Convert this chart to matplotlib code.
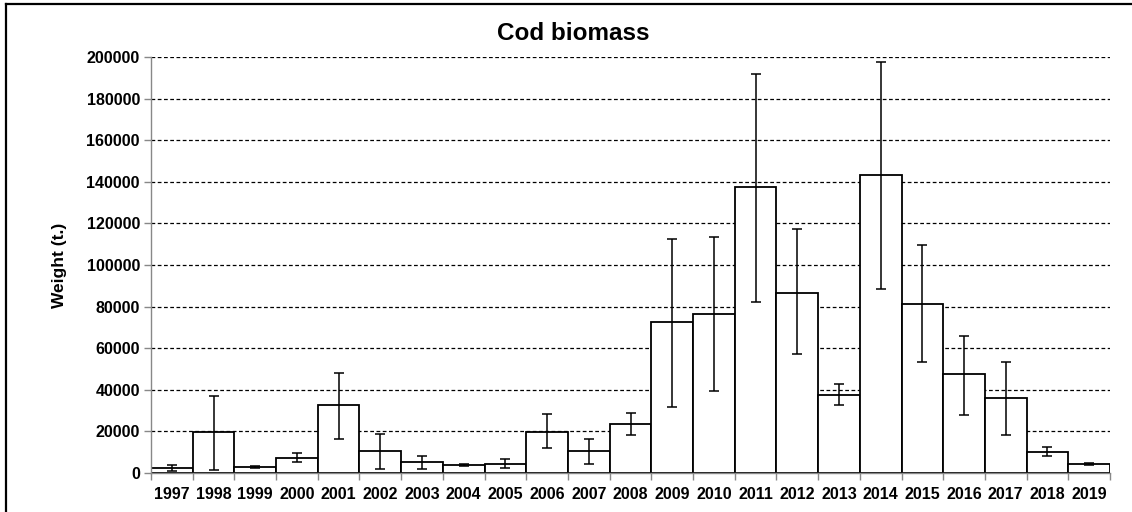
import matplotlib
matplotlib.use("Agg")
import matplotlib.pyplot as plt
from matplotlib.lines import Line2D
import numpy as np

years = [str(y) for y in range(1997, 2020)]
biomass = [2260, 19600, 2900, 7400, 32700, 10400, 5100, 3700, 4300, 19900, 10400,
           23600, 72600, 76300, 137400, 86700, 37700, 143200, 81400, 47500, 36200,
           10100, 4300]
err_high = [3700, 37200, 3300, 9600, 48200, 18600, 8000, 4200, 6600, 28200, 16200,
            28900, 112700, 113500, 191700, 117200, 42900, 197500, 109800, 66000, 53200,
            12400, 4700]
err_low = [960, 1400, 2500, 5100, 16200, 2100, 2100, 3200, 2300, 11900, 4500,
           18400, 31700, 39300, 82200, 57100, 32600, 88300, 53400, 28000, 18400,
           8000, 4000]
yticks = list(range(0, 200001, 20000))

plt.rcParams['font.family'] = ['Liberation Sans', 'DejaVu Sans']

fig = plt.figure(figsize=(11.32, 5.12), dpi=100)
ax = fig.add_axes([151/1132, 1 - 473/512, (1110 - 151)/1132, (473 - 57)/512])

x = np.arange(len(years))
b = np.array(biomass)
yerr = np.vstack([b - np.array(err_low), np.array(err_high) - b])

ax.set_axisbelow(True)
ax.yaxis.grid(True, linestyle=(0, (3, 2)), color='black', linewidth=0.9)
ax.bar(x, b, width=1.0, color='white', edgecolor='black', linewidth=1.3, zorder=2)
ax.errorbar(x, b, yerr=yerr, fmt='none', ecolor='black', elinewidth=1.1,
            capsize=3.8, capthick=1.1, zorder=3)

ax.set_xlim(-0.5, len(years) - 0.5)
ax.set_ylim(0, 200000)
ax.set_yticks(yticks)
ax.set_yticklabels([str(v) for v in yticks], fontsize=11.5, fontweight='bold')
ax.set_xticks(x)
ax.set_xticklabels(years, fontsize=11.5, fontweight='bold')
ax.set_xticks(np.arange(-0.5, len(years), 1.0), minor=True)
ax.tick_params(axis='x', which='major', length=0, pad=10)
ax.tick_params(axis='x', which='minor', length=5, color='#888888', width=1)
ax.tick_params(axis='y', length=5, color='#888888', width=1, pad=3)

for s in ['top', 'right']:
    ax.spines[s].set_visible(False)
for s in ['left', 'bottom']:
    ax.spines[s].set_color('#888888')
    ax.spines[s].set_linewidth(1.0)

ax.set_ylabel('Weight (t.)', fontsize=12.5, fontweight='bold')
ax.yaxis.set_label_coords((67 - 151) / 959, 0.5)
fig.text(573/1132, 1 - 33/512, 'Cod biomass', fontsize=17.5, fontweight='bold',
         ha='center', va='center')

# outer chart frame (partially visible)
fig.add_artist(Line2D([5.5/1132, 1.0], [1 - 3.5/512, 1 - 3.5/512],
                      transform=fig.transFigure, color='black', linewidth=1.6))
fig.add_artist(Line2D([5.5/1132, 5.5/1132], [0, 1 - 3.5/512],
                      transform=fig.transFigure, color='black', linewidth=1.6))

fig.savefig('out.png', dpi=100)
